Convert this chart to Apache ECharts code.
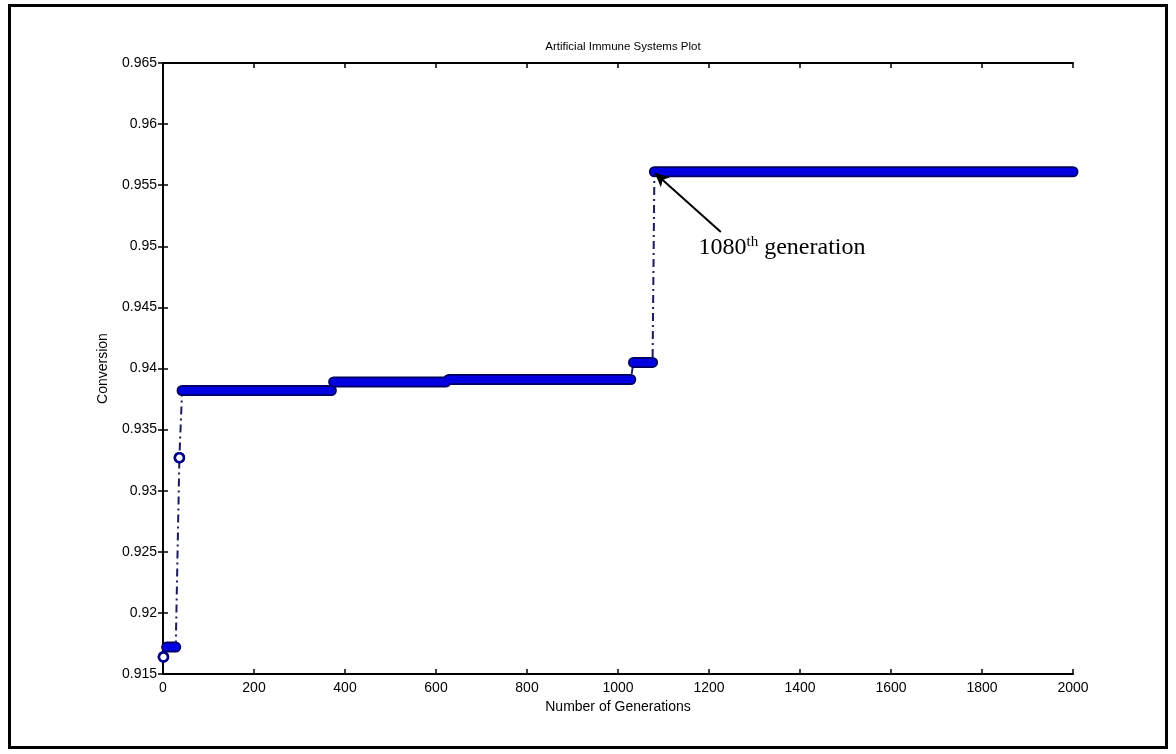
<!DOCTYPE html>
<html><head><meta charset="utf-8">
<script src="https://cdn.jsdelivr.net/npm/echarts@6/dist/echarts.min.js"></script>
<style>html,body{margin:0;padding:0;background:#fff}#c{width:1176px;height:754px}</style>
</head><body><div id="c"></div>
<script>
// Step data: each level runs from stepStart to stepEnd generation
var stepStart = [1, 8, 36, 42, 375, 628, 1034, 1080];
var stepEnd   = [1, 28, 36, 370, 622, 1028, 1076, 2000];
var stepValue = [0.9164, 0.9172, 0.9327, 0.9382, 0.9389, 0.9391, 0.9405, 0.9561];
var xTicks = [0, 200, 400, 600, 800, 1000, 1200, 1400, 1600, 1800, 2000];
var yTicks = [0.915, 0.92, 0.925, 0.93, 0.935, 0.94, 0.945, 0.95, 0.955, 0.96, 0.965];
var annotation = {text: '1080', sup: 'th', rest: ' generation', tip: [1081, 0.9560], tail: [1226, 0.95117], labelAt: [1166, 0.94985]};

var chart = echarts.init(document.getElementById('c'), null, {renderer: 'canvas'});
var font = 'Liberation Sans, Arial, sans-serif';
var serif = 'Liberation Serif, Times New Roman, serif';

var connector = [];
stepStart.forEach(function (s, i) { connector.push([s, stepValue[i]]); connector.push([stepEnd[i], stepValue[i]]); });

var series = [];
series.push({type: 'line', data: connector, symbol: 'none', silent: true, z: 2,
  lineStyle: {color: '#1c1c5a', width: 2, type: [8, 4, 2, 4]}});
stepStart.forEach(function (s, i) {
  var pts = [[s, stepValue[i]], [stepEnd[i], stepValue[i]]];
  if (s !== stepEnd[i]) {
    series.push({type: 'line', data: pts, symbol: 'none', silent: true, z: 3,
      lineStyle: {color: '#00005e', width: 11, cap: 'round'}});
    series.push({type: 'line', data: pts, symbol: 'none', silent: true, z: 4,
      lineStyle: {color: '#0000e0', width: 7.5, cap: 'round'}});
  } else {
    series.push({type: 'line', data: pts, symbol: 'circle', symbolSize: 9, silent: true, z: 4,
      lineStyle: {width: 0},
      itemStyle: {color: '#ffffff', borderColor: '#00008a', borderWidth: 2.6}});
  }
});
// annotation arrow
series.push({type: 'line', data: [], silent: true, z: 6,
  markLine: {silent: true, symbol: ['none', 'arrow'], symbolSize: [10, 14],
    lineStyle: {color: '#000', width: 2, type: 'solid'}, label: {show: false},
    data: [[{coord: annotation.tail}, {coord: annotation.tip}]]},
  markPoint: {silent: true, symbol: 'circle', symbolSize: 0,
    data: [{coord: annotation.labelAt}],
    label: {show: true, position: 'right', offset: [0, 0],
      formatter: '{a|' + annotation.text + '}{s|' + annotation.sup + '}{a|' + annotation.rest + '}',
      rich: {a: {fontFamily: serif, fontSize: 24, color: '#000'},
             s: {fontFamily: serif, fontSize: 15, color: '#000', verticalAlign: 'top', padding: [0, 0, 12, 0]}}}}
});

var fmtY = function (v) { return String(parseFloat(v.toFixed(3))); };
var tickFont = {fontFamily: font, fontSize: 14, color: '#000'};
chart.setOption({
  animation: false,
  backgroundColor: '#fff',
  title: {text: 'Artificial Immune Systems Plot', left: 618, top: 36, textAlign: 'center',
    textStyle: {fontFamily: font, fontSize: 11.5, fontWeight: 'normal', color: '#000'}},
  grid: {left: 163, right: 103, top: 63, bottom: 80, show: false},
  xAxis: [
    {type: 'value', min: 0, max: 2000, interval: 200, position: 'bottom',
      name: 'Number of Generations', nameLocation: 'middle', nameGap: 24,
      nameTextStyle: {fontFamily: font, fontSize: 14, color: '#000'},
      axisLine: {show: true, lineStyle: {color: '#000', width: 2}},
      axisTick: {show: true, inside: true, length: 5, lineStyle: {color: '#000', width: 1.5}},
      axisLabel: Object.assign({margin: 7,
        formatter: function (v) { return xTicks.indexOf(v) >= 0 ? String(v) : ''; }}, tickFont),
      splitLine: {show: false}},
    {type: 'value', min: 0, max: 2000, interval: 200, position: 'top',
      axisLine: {show: true, lineStyle: {color: '#000', width: 2}},
      axisTick: {show: true, inside: true, length: 5, lineStyle: {color: '#000', width: 1.5}},
      axisLabel: {show: false}, splitLine: {show: false}}
  ],
  yAxis: [
    {type: 'value', min: yTicks[0], max: yTicks[yTicks.length - 1], interval: 0.005, position: 'left',
      name: 'Conversion', nameLocation: 'middle', nameGap: 53, nameRotate: 90,
      nameTextStyle: {fontFamily: font, fontSize: 14, color: '#000'},
      axisLine: {show: true, lineStyle: {color: '#000', width: 2}},
      axisTick: {show: true, inside: true, length: 5, lineStyle: {color: '#000', width: 1.5}},
      axisLabel: Object.assign({margin: 6, formatter: fmtY}, tickFont),
      splitLine: {show: false}},
    {type: 'value', min: yTicks[0], max: yTicks[yTicks.length - 1], interval: 0.005, position: 'right',
      axisLine: {show: true, lineStyle: {color: '#000', width: 2}},
      axisTick: {show: true, inside: true, length: 5, lineStyle: {color: '#000', width: 1.5}},
      axisLabel: {show: false}, splitLine: {show: false}}
  ],
  graphic: [{type: 'rect', shape: {x: 9.5, y: 5.5, width: 1157, height: 742}, silent: true,
    style: {fill: 'none', stroke: '#000', lineWidth: 3}}],
  series: series
});
</script></body></html>
